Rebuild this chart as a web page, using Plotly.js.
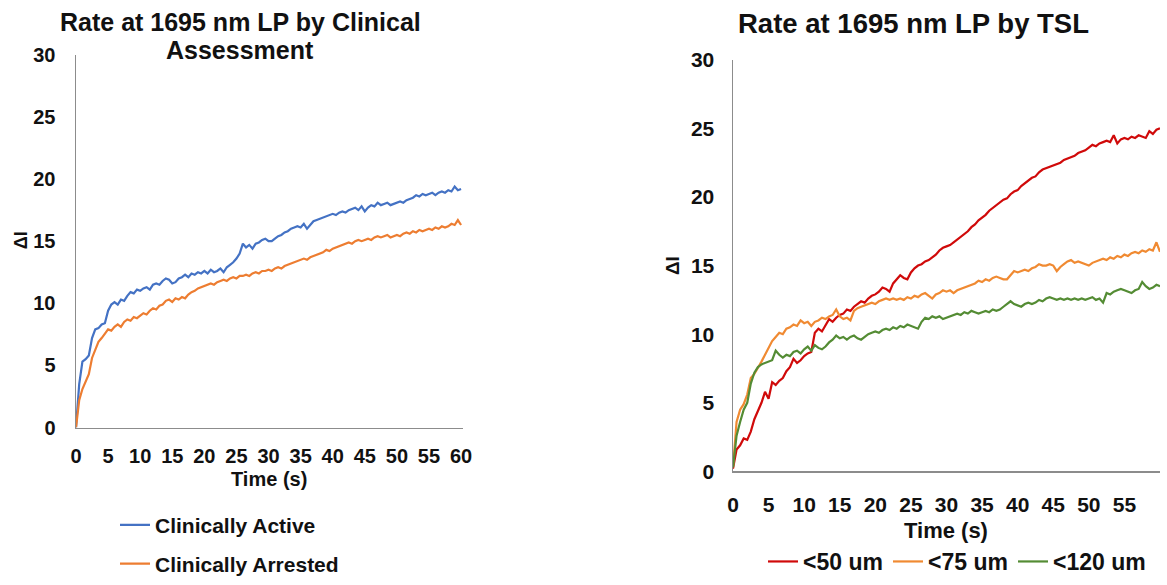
<!DOCTYPE html>
<html>
<head>
<meta charset="utf-8">
<script src="https://cdn.plot.ly/plotly-3.0.1.min.js"></script>
<style>html,body{margin:0;padding:0;background:#fff;}#chart{width:1167px;height:585px;}</style>
</head>
<body>
<div id="chart"></div>
<script>
// Time grid (s), 0.5 s steps
const time = [
0,0.5,1,1.5,2,2.5,3,3.5,4,4.5,
5,5.5,6,6.5,7,7.5,8,8.5,9,9.5,
10,10.5,11,11.5,12,12.5,13,13.5,14,14.5,
15,15.5,16,16.5,17,17.5,18,18.5,19,19.5,
20,20.5,21,21.5,22,22.5,23,23.5,24,24.5,
25,25.5,26,26.5,27,27.5,28,28.5,29,29.5,
30,30.5,31,31.5,32,32.5,33,33.5,34,34.5,
35,35.5,36,36.5,37,37.5,38,38.5,39,39.5,
40,40.5,41,41.5,42,42.5,43,43.5,44,44.5,
45,45.5,46,46.5,47,47.5,48,48.5,49,49.5,
50,50.5,51,51.5,52,52.5,53,53.5,54,54.5,
55,55.5,56,56.5,57,57.5,58,58.5,59,59.5,
60];

// Left chart: by clinical assessment
const clinicallyActive = [
0,3.5,5.3,5.5,5.8,7.2,7.9,8.0,8.3,8.4,
9.4,9.9,10.1,9.9,10.3,10.2,10.6,10.9,10.8,11.1,
11.0,11.2,11.3,11.1,11.5,11.6,11.5,11.8,12.0,11.9,
11.6,11.7,12.0,12.1,12.3,12.1,12.4,12.3,12.5,12.4,
12.6,12.4,12.7,12.5,12.6,12.8,12.5,12.9,13.1,13.3,
13.6,14.0,14.8,14.5,14.7,14.4,14.8,14.9,15.1,15.2,
15.0,15.0,15.2,15.4,15.5,15.7,15.8,16.0,16.1,16.2,
16.1,16.4,16.0,16.3,16.6,16.7,16.8,16.9,17.0,17.1,
17.2,17.1,17.3,17.4,17.3,17.5,17.6,17.7,17.5,17.8,
17.4,17.7,17.9,17.8,18.1,17.9,18.0,18.1,17.9,18.0,
18.1,18.2,18.1,18.3,18.4,18.5,18.7,18.6,18.8,18.7,
18.8,18.9,18.7,18.9,19.0,18.9,19.1,19.0,19.4,19.1,
19.2];

const clinicallyArrested = [
0,2.2,3.1,3.7,4.3,5.6,6.2,6.9,7.2,7.6,
7.9,7.8,8.1,8.3,8.1,8.5,8.7,8.6,8.9,8.8,
9.0,9.2,9.1,9.4,9.6,9.5,9.8,9.9,10.2,10.3,
10.1,10.4,10.3,10.5,10.4,10.7,10.9,11.0,11.2,11.3,
11.4,11.5,11.6,11.5,11.7,11.8,11.9,11.8,12.0,12.1,
12.0,12.2,12.2,12.3,12.2,12.4,12.5,12.4,12.6,12.6,
12.7,12.6,12.8,12.9,12.8,13.0,13.1,13.2,13.3,13.4,
13.5,13.6,13.5,13.7,13.8,13.9,14.0,14.1,14.3,14.2,
14.4,14.5,14.6,14.7,14.8,14.9,14.8,15.0,15.1,15.0,
15.1,15.2,15.1,15.3,15.4,15.3,15.4,15.5,15.3,15.4,
15.5,15.4,15.6,15.7,15.6,15.8,15.7,15.9,15.8,15.9,
16.0,15.9,16.1,16.0,16.2,16.1,16.2,16.4,16.3,16.7,
16.3];

// Right chart: by TSL
const tsl50 = [
0.2,1.6,1.9,2.4,2.3,2.9,3.8,4.4,5.0,5.8,
5.3,6.5,6.3,6.6,6.8,7.3,7.6,8.2,7.9,8.1,
8.4,8.6,8.7,10.1,10.4,10.2,10.7,11.1,10.9,11.2,
11.4,11.5,11.8,11.7,12.0,12.2,12.4,12.3,12.6,12.8,
12.9,13.1,13.4,13.3,13.1,13.7,14.0,14.3,14.1,14.0,
14.5,14.8,15.0,15.1,15.3,15.4,15.6,15.8,16.1,16.3,
16.4,16.5,16.7,16.9,17.1,17.3,17.5,17.8,18.0,18.3,
18.5,18.7,19.0,19.2,19.4,19.6,19.8,19.9,20.2,20.4,
20.5,20.8,21.0,21.2,21.4,21.5,21.8,22.0,22.1,22.2,
22.3,22.4,22.5,22.7,22.8,22.9,23.0,23.2,23.3,23.4,
23.6,23.8,23.7,23.9,24.0,24.1,24.0,24.5,23.9,24.2,
24.3,24.2,24.4,24.3,24.5,24.4,24.3,24.8,24.6,24.9,
25.0];

const tsl75 = [
0.3,3.6,4.5,4.9,5.6,6.8,7.1,7.5,8.0,8.5,
9.0,9.5,9.8,10.1,10.0,10.4,10.5,10.7,10.6,11.0,
10.8,10.9,10.6,10.9,11.0,11.2,11.1,11.3,11.4,11.8,
11.3,11.1,11.2,11.0,11.7,11.9,12.0,12.1,12.2,12.3,
12.2,12.4,12.5,12.6,12.5,12.6,12.5,12.6,12.5,12.7,
12.6,12.8,12.7,12.9,13.0,12.8,12.6,12.9,13.0,13.2,
13.1,13.2,13.0,13.2,13.3,13.4,13.5,13.6,13.7,13.9,
13.8,14.0,13.9,14.1,14.2,14.1,14.0,14.0,14.3,14.6,
14.5,14.6,14.7,14.6,14.8,14.9,15.1,15.0,15.0,15.1,
15.0,14.6,14.9,15.1,15.3,15.4,15.2,15.3,15.2,15.1,
15.0,15.2,15.3,15.4,15.5,15.4,15.6,15.5,15.7,15.6,
15.8,15.7,15.9,16.0,15.9,16.1,16.0,16.2,16.1,16.7,
16.0];

const tsl120 = [
0.3,2.6,3.6,4.5,5.0,6.4,7.2,7.6,7.8,7.9,
8.0,8.1,8.8,8.5,8.3,8.5,8.4,8.7,8.8,8.6,
8.9,9.1,8.8,9.2,9.0,8.9,9.1,9.4,9.6,9.9,
9.7,9.8,9.6,9.8,9.9,9.7,9.6,9.8,10.0,10.1,
10.2,10.1,10.3,10.4,10.3,10.5,10.4,10.6,10.5,10.7,
10.6,10.5,10.4,10.9,11.2,11.1,11.3,11.2,11.3,11.1,
11.2,11.3,11.4,11.5,11.4,11.6,11.5,11.7,11.6,11.5,
11.6,11.7,11.6,11.8,11.7,11.8,12.0,12.2,12.4,12.2,
12.1,12.0,12.2,12.3,12.2,12.3,12.5,12.4,12.6,12.7,
12.6,12.5,12.6,12.5,12.6,12.5,12.6,12.5,12.6,12.5,
12.6,12.7,12.5,12.6,12.3,13.0,12.9,13.1,13.2,13.3,
13.2,13.1,13.0,13.2,13.3,13.8,13.5,13.3,13.4,13.6,
13.5];

const leftTicks = [0,5,10,15,20,25,30,35,40,45,50,55,60];
const rightTicks = [0,5,10,15,20,25,30,35,40,45,50,55];
const yTicks = [0,5,10,15,20,25,30];

const FONT = 'Arial, "Liberation Sans", Helvetica, sans-serif';
const TXT = '#111111';
const W = 1167, H = 585;
const px = v => v / W;
const py = v => (H - v) / H;

const traces = [
  {x: time, y: clinicallyActive, name: 'Clinically Active', type: 'scatter', mode: 'lines',
   line: {color: '#4472C4', width: 2.2}, xaxis: 'x', yaxis: 'y', legend: 'legend'},
  {x: time, y: clinicallyArrested, name: 'Clinically Arrested', type: 'scatter', mode: 'lines',
   line: {color: '#ED7D31', width: 2.2}, xaxis: 'x', yaxis: 'y', legend: 'legend2'},
  {x: time, y: tsl50, name: '<50 um', type: 'scatter', mode: 'lines',
   line: {color: '#D00A0A', width: 2.2}, xaxis: 'x2', yaxis: 'y2', legend: 'legend3'},
  {x: time, y: tsl75, name: '<75 um', type: 'scatter', mode: 'lines',
   line: {color: '#F08A32', width: 2.2}, xaxis: 'x2', yaxis: 'y2', legend: 'legend4'},
  {x: time, y: tsl120, name: '<120 um', type: 'scatter', mode: 'lines',
   line: {color: '#548C34', width: 2.2}, xaxis: 'x2', yaxis: 'y2', legend: 'legend5'}
];

const axisCommon = {
  showgrid: false, zeroline: false, showline: true, linecolor: '#8C8C8C', linewidth: 1.5,
  ticks: '', fixedrange: true
};

function legendAt(xLeft, yCenter, size, anchor) {
  return {
    x: px(xLeft), y: anchor === 'bottom' ? 0 : py(yCenter),
    xanchor: 'left', yanchor: anchor || 'middle',
    orientation: 'v', bgcolor: 'rgba(0,0,0,0)', itemwidth: 30,
    font: {family: FONT, size: size, weight: 'bold', color: TXT}
  };
}

const layout = {
  width: W, height: H,
  margin: {l: 0, r: 0, t: 0, b: 0},
  paper_bgcolor: '#FFFFFF', plot_bgcolor: '#FFFFFF',
  font: {family: FONT, color: TXT},
  showlegend: true,
  xaxis: Object.assign({}, axisCommon, {
    domain: [px(76), px(463)], range: [0, 60.3], anchor: 'y',
    tickvals: leftTicks, ticktext: leftTicks.map(String),
    tickfont: {family: FONT, size: 20, weight: 'bold', color: TXT},
    ticklabelstandoff: 10
  }),
  yaxis: Object.assign({}, axisCommon, {
    domain: [py(429), py(55)], range: [0, 30], anchor: 'x',
    tickvals: yTicks, ticktext: yTicks.map(String),
    tickfont: {family: FONT, size: 20, weight: 'bold', color: TXT},
    ticklabelstandoff: 15
  }),
  xaxis2: Object.assign({}, axisCommon, {
    domain: [px(733), px(1160)], range: [0, 60], anchor: 'y2',
    tickvals: rightTicks, ticktext: rightTicks.map(String),
    tickfont: {family: FONT, size: 21, weight: 'bold', color: TXT},
    ticklabelstandoff: 14
  }),
  yaxis2: Object.assign({}, axisCommon, {
    domain: [py(473), py(60)], range: [0, 30], anchor: 'x2',
    tickvals: yTicks, ticktext: yTicks.map(String),
    tickfont: {family: FONT, size: 21, weight: 'bold', color: TXT},
    ticklabelstandoff: 13
  }),
  legend: legendAt(115, 527, 21),
  legend2: legendAt(115, 566, 21),
  legend3: legendAt(763, 570, 23, 'bottom'),
  legend4: legendAt(888, 570, 23, 'bottom'),
  legend5: legendAt(1013, 570, 23, 'bottom'),
  annotations: [
    {text: 'Rate at 1695 nm LP by Clinical', xref: 'paper', yref: 'paper',
     x: px(240), y: py(22), xanchor: 'center', yanchor: 'middle', showarrow: false,
     font: {family: FONT, size: 25, weight: 'bold', color: TXT}},
    {text: 'Assessment', xref: 'paper', yref: 'paper',
     x: px(240), y: py(50), xanchor: 'center', yanchor: 'middle', showarrow: false,
     font: {family: FONT, size: 25, weight: 'bold', color: TXT}},
    {text: 'Rate at 1695 nm LP by TSL', xref: 'paper', yref: 'paper',
     x: px(913), y: py(24), xanchor: 'center', yanchor: 'middle', showarrow: false,
     font: {family: FONT, size: 27.5, weight: 'bold', color: TXT}},
    {text: 'Time (s)', xref: 'paper', yref: 'paper',
     x: px(269), y: py(481), xanchor: 'center', yanchor: 'middle', showarrow: false,
     font: {family: FONT, size: 20, weight: 'bold', color: TXT}},
    {text: 'Time (s)', xref: 'paper', yref: 'paper',
     x: px(946), y: py(532), xanchor: 'center', yanchor: 'middle', showarrow: false,
     font: {family: FONT, size: 22, weight: 'bold', color: TXT}},
    {text: 'ΔI', xref: 'paper', yref: 'paper', textangle: -90,
     x: px(21), y: py(241), xanchor: 'center', yanchor: 'middle', showarrow: false,
     font: {family: FONT, size: 18, weight: 'bold', color: TXT}},
    {text: 'ΔI', xref: 'paper', yref: 'paper', textangle: -90,
     x: px(672), y: py(267), xanchor: 'center', yanchor: 'middle', showarrow: false,
     font: {family: FONT, size: 19, weight: 'bold', color: TXT}}
  ]
};

Plotly.newPlot('chart', traces, layout, {displayModeBar: false, staticPlot: true});
</script>
</body>
</html>
